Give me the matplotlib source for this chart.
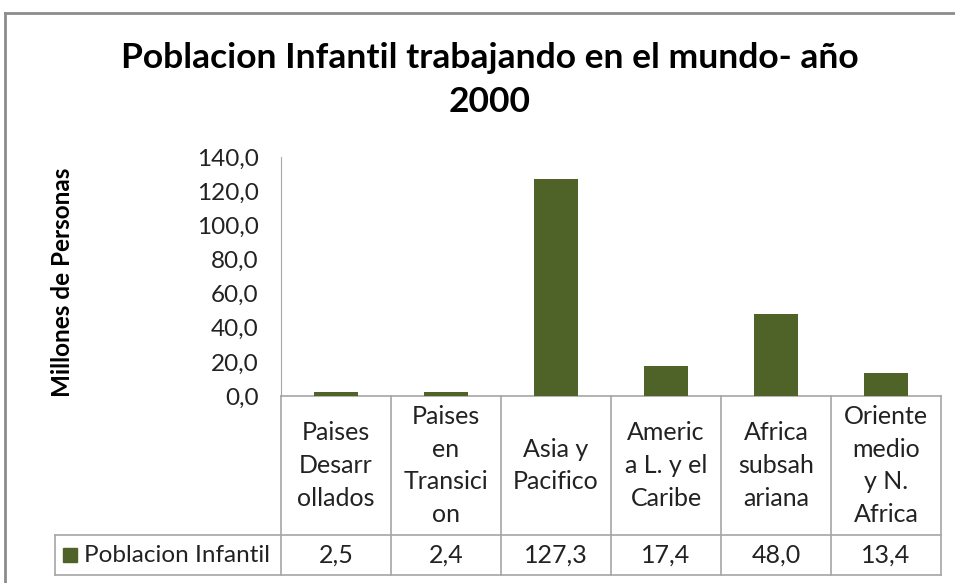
# Poblacion infantil trabajando - bar chart with Excel-style data table
import matplotlib
matplotlib.use('Agg')
import matplotlib.pyplot as plt
from matplotlib.lines import Line2D
from matplotlib.patches import Rectangle

categorias = ['Paises\nDesarr\nollados', 'Paises\nen\nTransici\non', 'Asia y\nPacifico',
              'Americ\na L. y el\nCaribe', 'Africa\nsubsah\nariana', 'Oriente\nmedio\ny N.\nAfrica']
valores = [2.5, 2.4, 127.3, 17.4, 48.0, 13.4]
serie = 'Poblacion Infantil'
yticks = [0, 20, 40, 60, 80, 100, 120, 140]

verde = '#4F6228'
gris = '#A6A6A6'
texto = '#222222'
W, H = 955, 583

plt.rcParams['font.family'] = ['Lato', 'DejaVu Sans']

fig = plt.figure(figsize=(W/100, H/100), dpi=100)
ax = fig.add_axes([281/W, 1-396/H, 660/W, 239/H])

x = list(range(len(valores)))
ax.bar(x, valores, width=0.4, color=verde, zorder=3)
ax.set_xlim(-0.5, len(valores)-0.5)
ax.set_ylim(0, 140)
ax.set_yticks(yticks)
ax.set_yticklabels(['{:.1f}'.format(v).replace('.', ',') for v in yticks], fontsize=17.5, color=texto)
ax.tick_params(axis='y', length=0, pad=16)
ax.set_xticks([])
for s in ['top', 'right', 'bottom']:
    ax.spines[s].set_visible(False)
ax.spines['left'].set_color(gris)

# data table below the axes (y in axes fraction)
tr = ax.get_xaxis_transform()
y_cat = -139/239
y_val = -179/239
x_leg = -0.5 - (281-55)/110
kw = dict(color=gris, lw=1.2, transform=tr, clip_on=False)
ax.add_line(Line2D([-0.5, 5.5], [0, 0], **kw))
ax.add_line(Line2D([x_leg, 5.5], [y_cat, y_cat], **kw))
ax.add_line(Line2D([x_leg, 5.5], [y_val, y_val], **kw))
ax.add_line(Line2D([x_leg, x_leg], [y_cat, y_val], **kw))
for b in range(len(valores)+1):
    ax.add_line(Line2D([b-0.5, b-0.5], [0, y_val], **kw))

for i, (c, v) in enumerate(zip(categorias, valores)):
    ax.text(i, y_cat/2, c, transform=tr, ha='center', va='center', fontsize=18,
            linespacing=1.5, color=texto)
    ax.text(i, (y_cat+y_val)/2, '{:.1f}'.format(v).replace('.', ','), transform=tr,
            ha='center', va='center', fontsize=18, color=texto)

# legend key in table
fig.patches.append(Rectangle((63/W, 1-562/H), 14/W, 14/H, color=verde, transform=fig.transFigure))
fig.text(84/W, 1-555/H, serie, ha='left', va='center', fontsize=17.5, color=texto)

fig.text(62/W, 1-282/H, 'Millones de Personas', rotation=90, ha='center', va='center',
         fontsize=17.5, fontweight='bold')
fig.text(490/W, 1-80/H, 'Poblacion Infantil trabajando en el mundo- año\n2000',
         ha='center', va='center', fontsize=25.5, fontweight='bold', linespacing=1.48)

# outer chart border
fig.add_artist(Line2D([5/W, 1], [1-13/H, 1-13/H], color='#8C8C8C', lw=2, transform=fig.transFigure))
fig.add_artist(Line2D([5/W, 5/W], [0, 1-13/H], color='#8C8C8C', lw=2, transform=fig.transFigure))

fig.savefig('out.png', dpi=100)
